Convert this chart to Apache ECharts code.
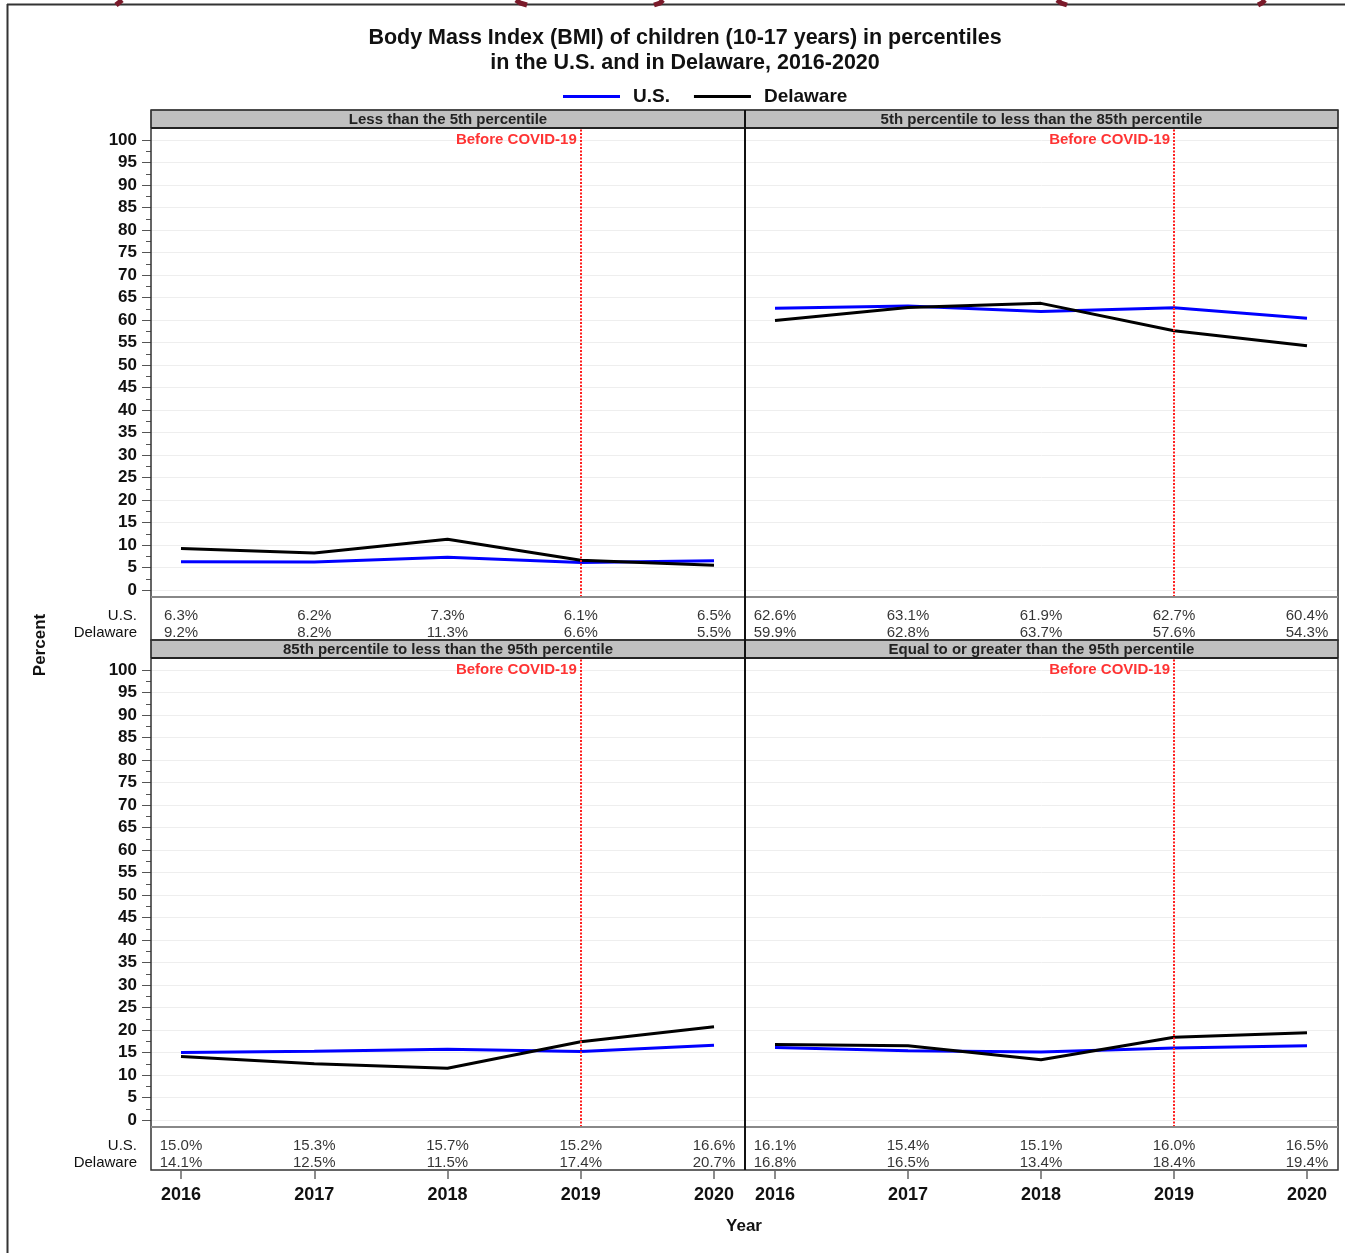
<!DOCTYPE html>
<html>
<head>
<meta charset="utf-8">
<script src="https://cdn.jsdelivr.net/npm/echarts@6/dist/echarts.min.js"></script>
<style>
  html, body { margin: 0; padding: 0; background: #fff; }
  #chart { width: 1345px; height: 1253px; }
</style>
</head>
<body>
<div id="chart"></div>
<script>
// data
const years = [2016, 2017, 2018, 2019, 2020];
const covidYear = 2019;
const panelTitles = [
  'Less than the 5th percentile',
  '5th percentile to less than the 85th percentile',
  '85th percentile to less than the 95th percentile',
  'Equal to or greater than the 95th percentile'
];
const rowNames = ['U.S.', 'Delaware'];

const usLt5 = [6.3, 6.2, 7.3, 6.1, 6.5];
const deLt5 = [9.2, 8.2, 11.3, 6.6, 5.5];
const us5to85 = [62.6, 63.1, 61.9, 62.7, 60.4];
const de5to85 = [59.9, 62.8, 63.7, 57.6, 54.3];
const us85to95 = [15.0, 15.3, 15.7, 15.2, 16.6];
const de85to95 = [14.1, 12.5, 11.5, 17.4, 20.7];
const usGe95 = [16.1, 15.4, 15.1, 16.0, 16.5];
const deGe95 = [16.8, 16.5, 13.4, 18.4, 19.4];

const usSets = [usLt5, us5to85, us85to95, usGe95];
const deSets = [deLt5, de5to85, de85to95, deGe95];

// layout
const FONT = '"Liberation Sans", Arial, sans-serif';
const colX = [[151, 745], [745, 1338]];
const rowTop = [110, 640];
const BLUE = '#0000ff';

const chart = echarts.init(document.getElementById('chart'));

const grid = [], xAxis = [], yAxis = [], series = [], graphic = [];

panelTitles.forEach((title, i) => {
  const c = i % 2, r = Math.floor(i / 2);
  const x0 = colX[c][0], x1 = colX[c][1], t = rowTop[r];
  const step = (x1 - x0 - 61) / 4;
  const xmin = 2016 - 30 / step, xmax = 2020 + 31 / step;
  const g = i * 3;

  // plot area, table, overlay for the reference line
  grid.push({ left: x0, top: t + 30, width: x1 - x0, height: 450 });
  grid.push({ left: x0 + 30, top: t + 498, width: x1 - x0 - 61, height: 33 });
  grid.push({ left: x0, top: t + 18, width: x1 - x0, height: 469 });

  xAxis.push({ gridIndex: g, type: 'value', min: xmin, max: xmax, show: false });
  yAxis.push({
    gridIndex: g, type: 'value', min: 0, max: 100, interval: 5,
    axisLine: { show: false },
    axisTick: { show: c === 0, length: 9, lineStyle: { color: '#555' } },
    minorTick: { show: c === 0, splitNumber: 2, length: 5, lineStyle: { color: '#555' } },
    axisLabel: { show: c === 0, margin: 14, fontFamily: FONT, fontSize: 17, fontWeight: 'bold', color: '#111' },
    splitLine: { show: true, lineStyle: { color: '#eeeeee', width: 1 } }
  });

  xAxis.push({
    gridIndex: g + 1, type: 'value', min: 2016, max: 2020, interval: 1,
    axisLine: { show: false },
    axisTick: { show: r === 1, length: 8, lineStyle: { color: '#666', width: 1.5 } },
    axisLabel: {
      show: r === 1, margin: 15, fontFamily: FONT, fontSize: 18, fontWeight: 'bold', color: '#111',
      formatter: v => String(v)
    },
    splitLine: { show: false }
  });
  yAxis.push({
    gridIndex: g + 1, type: 'category', data: rowNames, inverse: true, offset: 30,
    axisLine: { show: false }, axisTick: { show: false },
    axisLabel: { show: c === 0, interval: 0, margin: 14, fontFamily: FONT, fontSize: 15, color: '#111' }
  });

  xAxis.push({ gridIndex: g + 2, type: 'value', min: xmin, max: xmax, show: false });
  yAxis.push({ gridIndex: g + 2, type: 'value', min: 0, max: 1, show: false });

  const us = usSets[i], de = deSets[i];
  series.push({
    name: 'U.S.', type: 'line', xAxisIndex: g, yAxisIndex: g,
    data: years.map((y, k) => [y, us[k]]),
    showSymbol: false, color: BLUE, lineStyle: { color: BLUE, width: 3 }, z: 3
  });
  series.push({
    name: 'Delaware', type: 'line', xAxisIndex: g, yAxisIndex: g,
    data: years.map((y, k) => [y, de[k]]),
    showSymbol: false, color: '#000', lineStyle: { color: '#000', width: 3 }, z: 4
  });
  series.push({
    name: 'covid-label', type: 'scatter', xAxisIndex: g, yAxisIndex: g,
    data: [[covidYear, 100]], symbolSize: 0, silent: true,
    label: {
      show: true, position: 'left', distance: 4, formatter: 'Before COVID-19',
      fontFamily: FONT, fontSize: 15, fontWeight: 'bold', color: '#ff0000'
    }
  });
  series.push({
    name: 'covid-line', type: 'line', xAxisIndex: g + 2, yAxisIndex: g + 2, data: [],
    markLine: {
      silent: true, symbol: ['none', 'none'], label: { show: false },
      lineStyle: { color: '#ff2020', type: [2, 1.5], width: 2 },
      data: [{ xAxis: covidYear }]
    }
  });

  // table rows under the plot
  [us, de].forEach((vals, k) => {
    series.push({
      name: 'table', type: 'scatter', xAxisIndex: g + 1, yAxisIndex: g + 1,
      data: years.map((y, j) => [y, rowNames[k], vals[j]]),
      encode: { x: 0, y: 1 },
      symbolSize: 0, silent: true,
      label: {
        show: true, position: 'inside', fontFamily: FONT, fontSize: 15, color: '#000',
        formatter: p => p.value[2].toFixed(1) + '%'
      }
    });
  });

  // panel header text
  graphic.push({
    type: 'text', z: 20, x: (x0 + x1) / 2, y: t + 9.5,
    style: { text: title, font: 'bold 15px ' + FONT, fill: '#222', align: 'center', verticalAlign: 'middle' }
  });
});

// frames: header strips, panel borders, divider
rowTop.forEach(t => {
  graphic.push({ type: 'rect', z: 10, shape: { x: 151, y: t, width: 1187, height: 18 },
    style: { fill: '#c0c0c0', stroke: '#333', lineWidth: 1 } });
  graphic.push({ type: 'rect', z: 11, shape: { x: 151, y: t, width: 1187, height: 530 },
    style: { fill: null, stroke: '#333', lineWidth: 1.5 } });
  graphic.push({ type: 'line', z: 11, shape: { x1: 151, y1: t + 18, x2: 1338, y2: t + 18 },
    style: { stroke: '#222', lineWidth: 2 } });
  graphic.push({ type: 'line', z: 11, shape: { x1: 151, y1: t + 487, x2: 1338, y2: t + 487 },
    style: { stroke: '#888', lineWidth: 2 } });
  graphic.push({ type: 'line', z: 12, shape: { x1: 745, y1: t, x2: 745, y2: t + 530 },
    style: { stroke: '#111', lineWidth: 2 } });
});

// outer page frame and cut-off heading strokes at the top
graphic.push({ type: 'line', shape: { x1: 7, y1: 4.5, x2: 1345, y2: 4.5 }, style: { stroke: '#333', lineWidth: 2 } });
graphic.push({ type: 'line', shape: { x1: 7.5, y1: 4, x2: 7.5, y2: 1253 }, style: { stroke: '#333', lineWidth: 2 } });
[[[122, 0], [116, 5]], [[516, 0], [520, 3], [527, 5]], [[663, 0], [660, 3], [654, 5]],
 [[1057, 0], [1061, 3], [1067, 5]], [[1265, 0], [1262, 3], [1258, 5]]].forEach(pts => {
  graphic.push({ type: 'polyline', z: 1, shape: { points: pts }, style: { stroke: '#7a1a2a', lineWidth: 5, fill: null } });
});

graphic.push({
  type: 'text', x: 40, y: 645, rotation: Math.PI / 2,
  style: { text: 'Percent', font: 'bold 17px ' + FONT, fill: '#111', align: 'center', verticalAlign: 'middle' }
});
graphic.push({
  type: 'text', x: 744, y: 1226,
  style: { text: 'Year', font: 'bold 17px ' + FONT, fill: '#111', align: 'center', verticalAlign: 'middle' }
});

chart.setOption({
  animation: false,
  backgroundColor: '#fff',
  title: {
    text: 'Body Mass Index (BMI) of children (10-17 years) in percentiles\nin the U.S. and in Delaware, 2016-2020',
    left: 685, top: 26, textAlign: 'center', padding: 0,
    textStyle: { fontFamily: FONT, fontSize: 21.5, fontWeight: 'bold', color: '#111', lineHeight: 25 }
  },
  legend: {
    data: ['U.S.', 'Delaware'], left: 563, top: 87, padding: 0,
    icon: 'rect', itemWidth: 57, itemHeight: 3, itemGap: 24,
    textStyle: { fontFamily: FONT, fontSize: 19, fontWeight: 'bold', color: '#111', padding: [0, 0, 0, 8] }
  },
  grid, xAxis, yAxis, series, graphic
});
</script>
</body>
</html>
